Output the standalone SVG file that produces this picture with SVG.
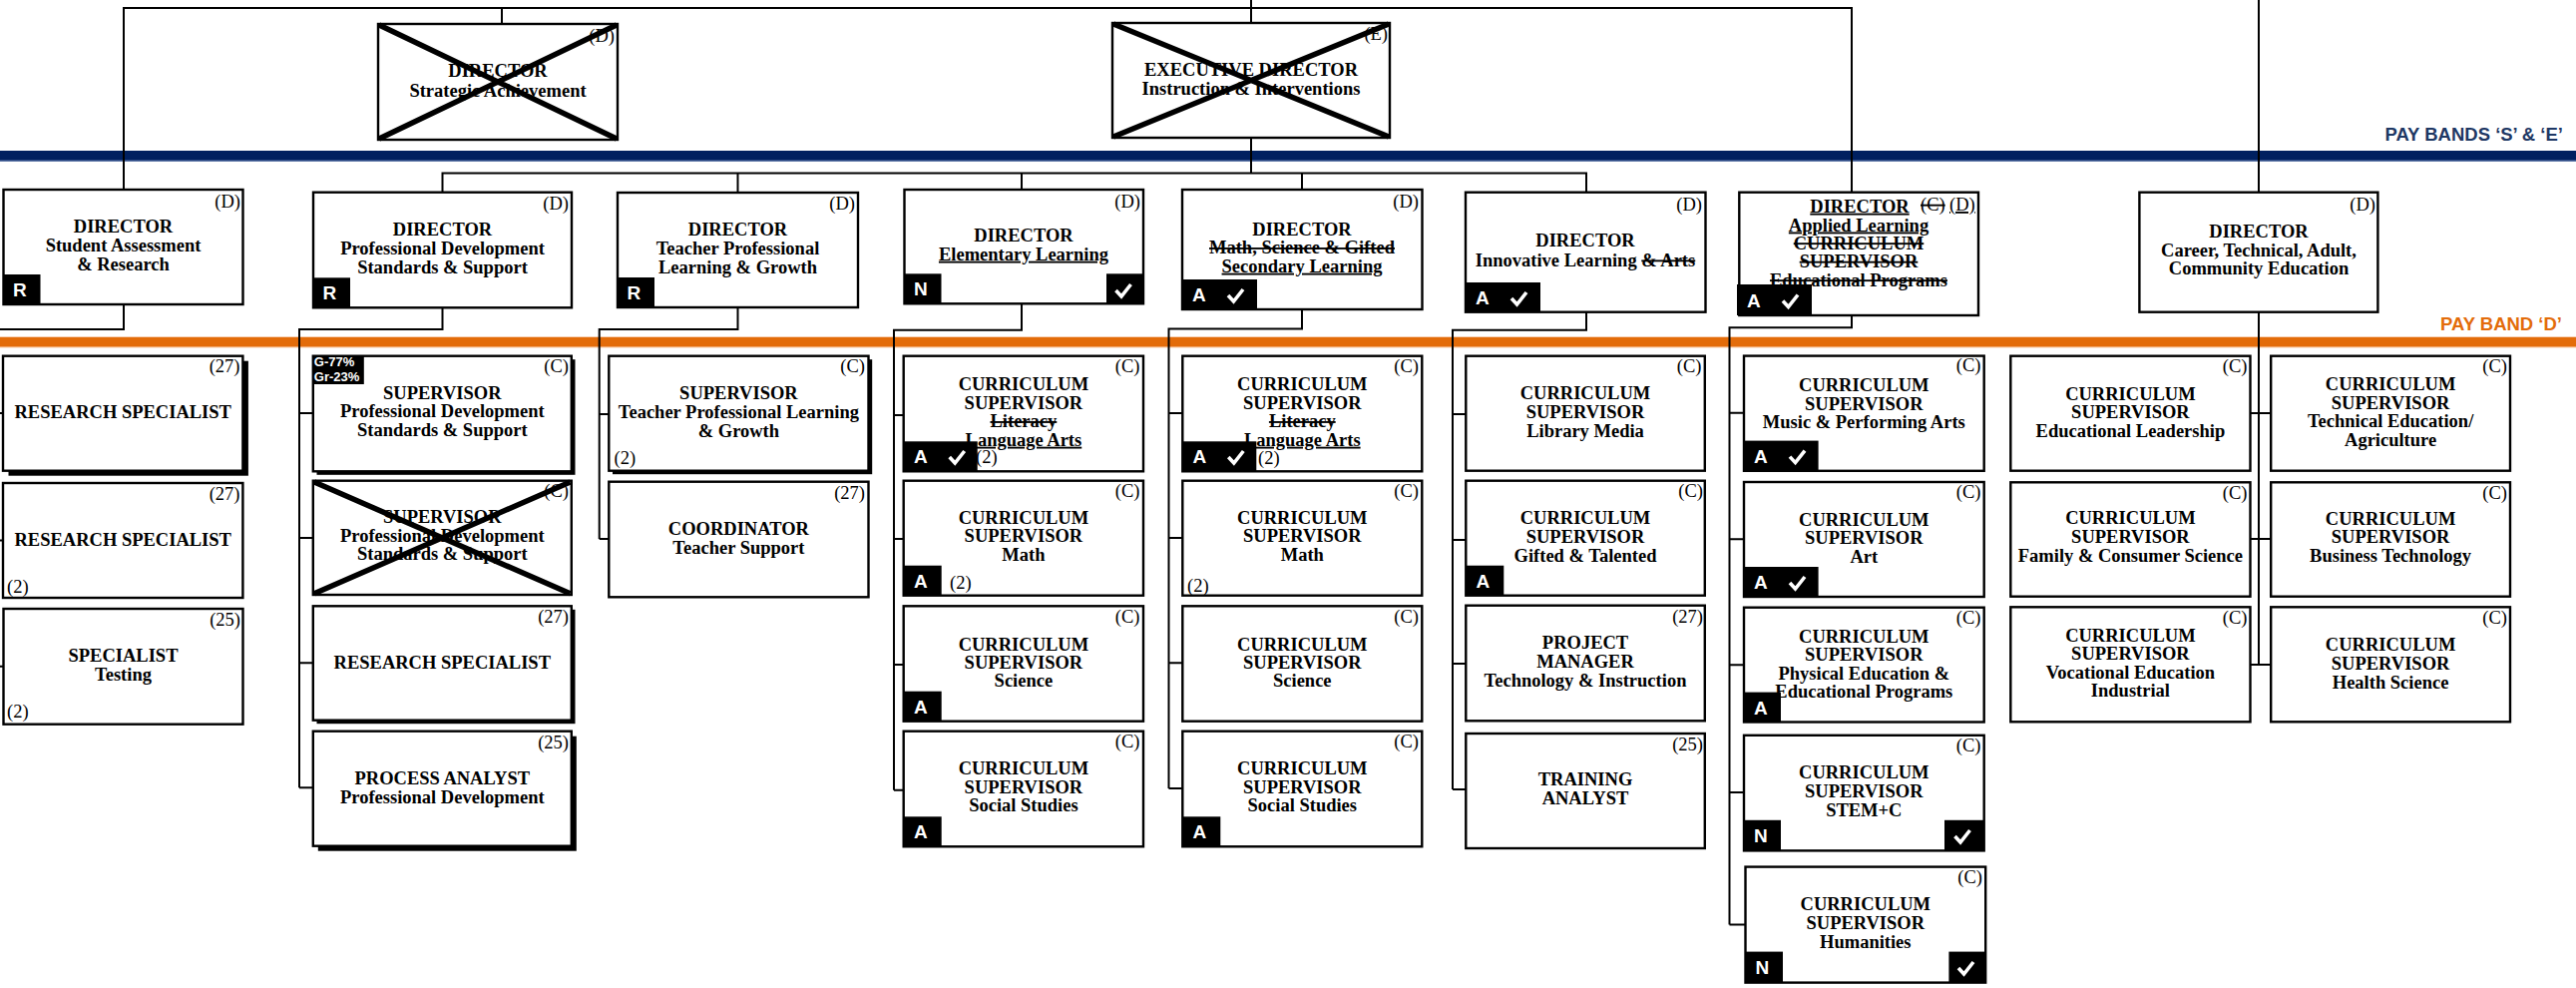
<svg xmlns="http://www.w3.org/2000/svg" xmlns:xlink="http://www.w3.org/1999/xlink" width="2582" height="990" viewBox="0 0 2582 990">
<style>
.bx{fill:#fff;stroke:#000;stroke-width:2.4}
.sh{fill:#000}
.t{font-family:"Liberation Serif","Times New Roman",serif;font-weight:bold;font-size:18.5px;text-anchor:middle;fill:#000}
.gr{font-family:"Liberation Serif","Times New Roman",serif;font-size:18.5px;text-anchor:end;fill:#000}
.gl{font-family:"Liberation Serif","Times New Roman",serif;font-size:18.5px;text-anchor:start;fill:#000}
.bg{fill:#000}
.bl{font-family:"Liberation Sans",Arial,sans-serif;font-weight:bold;font-size:19px;fill:#fff}
.gb{font-family:"Liberation Sans",Arial,sans-serif;font-weight:bold;font-size:13px;fill:#fff}
.ck{fill:none;stroke:#fff;stroke-width:3.6}
.xx{stroke:#000;stroke-width:5.5}
.cn{fill:none;stroke:#000;stroke-width:2}
.u{text-decoration:underline}
.s{text-decoration:line-through}
.band{font-family:"Liberation Sans",Arial,sans-serif;font-weight:bold;font-size:18.5px;text-anchor:end}
</style>
<defs>
<path id="chk" class="ck" d="M0,6 L5.5,12 L15,0"/>
</defs>
<rect width="2582" height="990" fill="#fff"/>
<g id="bands">
<rect x="0" y="151" width="2582" height="10.5" fill="#002060"/>
<rect x="0" y="160.5" width="2582" height="1.2" fill="#5a74a8"/>
<text class="band" x="2569" y="141" fill="#1F3864">PAY BANDS ‘S’ &amp; ‘E’</text>
<rect x="0" y="337.7" width="2582" height="10" fill="#E36C0A"/>
<rect x="0" y="347" width="2582" height="1.3" fill="#f2a66a"/>
<text class="band" x="2568" y="330.7" fill="#E36C0A">PAY BAND ‘D’</text>
</g>
<g id="connectors" class="cn">
<path d="M124,190 V8 H1856 V193"/>
<path d="M503,8 V24"/>
<path d="M1254,0 V23 M1254,138 V173.5"/>
<path d="M443.5,192.7 V173.5 H1590 V192.7"/>
<path d="M739.5,173.5 V193 M1024,173.5 V190 M1305,173.5 V190"/>
<path d="M2264,0 V192.7"/>
<path d="M124,305 V330 H-4 V668 M-4,414 H3.5 M-4,541.5 H3.5 M-4,667.7 H3.5"/>
<path d="M443.5,308.3 V330 H300 V789.3 M300,414 H314 M300,539 H314 M300,664.3 H314 M300,789.3 H314"/>
<path d="M739.5,308 V330 H600.7 V540 M600.7,415 H610.3 M600.7,540 H610.3"/>
<path d="M1024,304.3 V330.7 H896 V791.7 M896,416 H905.7 M896,540 H905.7 M896,666 H905.7 M896,791.7 H905.7"/>
<path d="M1305,310 V329.5 H1171.5 V790 M1171.5,414 H1185.3 M1171.5,539 H1185.3 M1171.5,664.3 H1185.3 M1171.5,790 H1185.3"/>
<path d="M1590,312.7 V330.7 H1456 V791 M1456,415 H1469.3 M1456,541 H1469.3 M1456,665 H1469.3 M1456,791 H1469.3"/>
<path d="M1856,316 V328.3 H1733.5 V926.6 M1733.5,413.8 H1748 M1733.5,540.2 H1748 M1733.5,666.3 H1748 M1733.5,794 H1748 M1733.5,926.6 H1749.5"/>
<path d="M2264,312.7 V666 M2255.5,414 H2276.2 M2255.5,540 H2276.2 M2255.5,666 H2276.2"/>
</g>

<g id="strategic">
<rect class="bx" x="379" y="24" width="240" height="116"/>
<text class="gr" x="616" y="42">(D)</text>
<text class="t" x="499" y="77.3">DIRECTOR</text>
<text class="t" x="499" y="96.7">Strategic Achievement</text>
<path class="xx" d="M380,25 L618,139 M380,139 L618,25"/>
</g>
<g id="executive">
<rect class="bx" x="1115" y="23" width="278" height="115"/>
<text class="gr" x="1391" y="40">(E)</text>
<text class="t" x="1254" y="76">EXECUTIVE DIRECTOR</text>
<text class="t" x="1254" y="95">Instruction &amp; Interventions</text>
<path class="xx" d="M1116,24 L1392,137 M1116,137 L1392,24"/>
</g>

<g id="dir-student">
<rect class="bx" x="3.5" y="190" width="240" height="115"/>
<text class="gr" x="241" y="208">(D)</text>
<text class="t" x="123.5" y="233.3">DIRECTOR</text>
<text class="t" x="123.5" y="251.7">Student Assessment</text>
<text class="t" x="123.5" y="270.7">&amp; Research</text>
<rect class="bg" x="3.5" y="275" width="37" height="30"/>
<text class="bl" x="13" y="297">R</text>
</g>
<g id="dir-profdev">
<rect class="bx" x="314" y="192.7" width="259" height="115.6"/>
<text class="gr" x="570" y="210">(D)</text>
<text class="t" x="443.5" y="236">DIRECTOR</text>
<text class="t" x="443.5" y="255">Professional Development</text>
<text class="t" x="443.5" y="274">Standards &amp; Support</text>
<rect class="bg" x="314" y="278.3" width="37" height="30"/>
<text class="bl" x="323.5" y="300.3">R</text>
</g>
<g id="dir-teacher">
<rect class="bx" x="619" y="193" width="241" height="115"/>
<text class="gr" x="857" y="210">(D)</text>
<text class="t" x="739.5" y="236">DIRECTOR</text>
<text class="t" x="739.5" y="255">Teacher Professional</text>
<text class="t" x="739.5" y="274">Learning &amp; Growth</text>
<rect class="bg" x="619" y="278" width="37" height="30"/>
<text class="bl" x="628.5" y="300">R</text>
</g>
<g id="dir-elem">
<rect class="bx" x="906.5" y="190" width="239.5" height="114.3"/>
<text class="gr" x="1143" y="208">(D)</text>
<text class="t" x="1026" y="241.7">DIRECTOR</text>
<text class="t u" x="1026" y="260.7">Elementary Learning</text>
<rect class="bg" x="906.5" y="274.3" width="37" height="30"/>
<text class="bl" x="916" y="296.3">N</text>
<rect class="bg" x="1109" y="274.3" width="37" height="30"/>
<use xlink:href="#chk" x="1118.5" y="285"/>
</g>
<g id="dir-math">
<rect class="bx" x="1185" y="190" width="240.5" height="120"/>
<text class="gr" x="1422" y="208">(D)</text>
<text class="t" x="1305" y="236">DIRECTOR</text>
<text class="t s" x="1305" y="254.3">Math, Science &amp; Gifted</text>
<text class="t u" x="1305" y="272.7">Secondary Learning</text>
<rect class="bg" x="1185" y="280" width="75" height="30"/>
<text class="bl" x="1195" y="302">A</text>
<use xlink:href="#chk" x="1231" y="290"/>
</g>
<g id="dir-innov">
<rect class="bx" x="1469" y="192.7" width="240.5" height="120"/>
<text class="gr" x="1706" y="211">(D)</text>
<text class="t" x="1589" y="247.3">DIRECTOR</text>
<text class="t" x="1589" y="266.7">Innovative Learning <tspan class="s">&amp; Arts</tspan></text>
<rect class="bg" x="1469" y="283" width="75" height="30"/>
<text class="bl" x="1479" y="305">A</text>
<use xlink:href="#chk" x="1515" y="293"/>
</g>
<g id="dir-applied">
<rect class="bx" x="1743.3" y="192.7" width="239.7" height="123.3"/>
<text class="t u" x="1864" y="212.7">DIRECTOR</text>
<text class="gl s" x="1925" y="211">(C)</text>
<text class="gl u" x="1954" y="211">(D)</text>
<text class="t u" x="1863" y="231.5">Applied Learning</text>
<text class="t s" x="1863" y="249.5">CURRICULUM</text>
<text class="t s" x="1863" y="268">SUPERVISOR</text>
<text class="t s" x="1863" y="286.5">Educational Programs</text>
<rect class="bg" x="1741" y="285" width="75" height="31"/>
<text class="bl" x="1751" y="307.5">A</text>
<use xlink:href="#chk" x="1787" y="295.5"/>
</g>
<g id="dir-career">
<rect class="bx" x="2144.4" y="192.7" width="239" height="120"/>
<text class="gr" x="2381" y="211">(D)</text>
<text class="t" x="2264" y="238.3">DIRECTOR</text>
<text class="t" x="2264" y="256.7">Career, Technical, Adult,</text>
<text class="t" x="2264" y="275">Community Education</text>
</g>

<g id="research-specialist-1">
<rect class="sh" x="8.5" y="361.7" width="240.4" height="115"/>
<rect class="bx" x="3" y="356.7" width="240.4" height="115"/>
<text class="gr" x="240.5" y="373.3">(27)</text>
<text class="t" x="123.2" y="419">RESEARCH SPECIALIST</text>
</g>
<g id="research-specialist-2">
<rect class="bx" x="3" y="484" width="240.4" height="115"/>
<text class="gr" x="240.5" y="500.5">(27)</text>
<text class="t" x="123.2" y="546.7">RESEARCH SPECIALIST</text>
<text class="gl" x="7" y="594">(2)</text>
</g>
<g id="specialist-testing">
<rect class="bx" x="3.5" y="610" width="240" height="115.7"/>
<text class="gr" x="241" y="626.5">(25)</text>
<text class="t" x="123.5" y="662.7">SPECIALIST</text>
<text class="t" x="123.5" y="681.7">Testing</text>
<text class="gl" x="7" y="719">(2)</text>
</g>

<g id="supervisor-pd">
<rect class="sh" x="317.5" y="360.2" width="259" height="115.6"/>
<rect class="bx" x="313.8" y="356.7" width="259" height="115.6"/>
<text class="gr" x="570" y="373">(C)</text>
<text class="t" x="443.3" y="400">SUPERVISOR</text>
<text class="t" x="443.3" y="418.3">Professional Development</text>
<text class="t" x="443.3" y="437.3">Standards &amp; Support</text>
<rect class="bg" x="313.8" y="356.7" width="51" height="28.3"/>
<text class="gb" x="314.8" y="366.7">G-77%</text>
<text class="gb" x="314.8" y="382.3">Gr-23%</text>
</g>
<g id="supervisor-pd-removed">
<rect class="bx" x="313.8" y="481.7" width="259" height="114.3"/>
<text class="gr" x="570" y="498">(C)</text>
<text class="t" x="443.3" y="524">SUPERVISOR</text>
<text class="t" x="443.3" y="542.7">Professional Development</text>
<text class="t" x="443.3" y="561">Standards &amp; Support</text>
<path class="xx" d="M315,483 L571.5,594.8 M315,594.8 L571.5,483"/>
</g>
<g id="research-specialist-pd">
<rect class="sh" x="317.5" y="610.8" width="259" height="114.4"/>
<rect class="bx" x="313.8" y="607.3" width="259" height="114.4"/>
<text class="gr" x="570" y="624">(27)</text>
<text class="t" x="443.3" y="670">RESEARCH SPECIALIST</text>
</g>
<g id="process-analyst">
<rect class="sh" x="318.8" y="737.7" width="259" height="115"/>
<rect class="bx" x="313.8" y="732.7" width="259" height="115"/>
<text class="gr" x="570" y="749.5">(25)</text>
<text class="t" x="443.3" y="786">PROCESS ANALYST</text>
<text class="t" x="443.3" y="805">Professional Development</text>
</g>

<g id="supervisor-tpl">
<rect class="sh" x="614" y="360.2" width="260.2" height="115"/>
<rect class="bx" x="610.3" y="356.7" width="260.2" height="115"/>
<text class="gr" x="867" y="373">(C)</text>
<text class="t" x="740.4" y="400">SUPERVISOR</text>
<text class="t" x="740.4" y="419">Teacher Professional Learning</text>
<text class="t" x="740.4" y="437.7">&amp; Growth</text>
<text class="gl" x="615.6" y="465">(2)</text>
</g>
<g id="coordinator">
<rect class="bx" x="610.3" y="482.7" width="260.2" height="115.6"/>
<text class="gr" x="867" y="499.5">(27)</text>
<text class="t" x="740.4" y="536">COORDINATOR</text>
<text class="t" x="740.4" y="555">Teacher Support</text>
</g>

<g id="elem-literacy">
<rect class="bx" x="905.7" y="356.7" width="240.3" height="115.6"/>
<text class="gr" x="1142.5" y="373">(C)</text>
<text class="t" x="1025.9" y="390.7">CURRICULUM</text>
<text class="t" x="1025.9" y="410">SUPERVISOR</text>
<text class="t s" x="1025.9" y="428.3">Literacy</text>
<text class="t u" x="1025.9" y="446.7">Language Arts</text>
<text class="gl" x="978" y="464">(2)</text>
<rect class="bg" x="905.7" y="442.3" width="74" height="30"/>
<text class="bl" x="916" y="464.3">A</text>
<use xlink:href="#chk" x="951.7" y="452"/>
</g>
<g id="elem-math">
<rect class="bx" x="905.7" y="481.7" width="240.3" height="115"/>
<text class="gr" x="1142.5" y="498">(C)</text>
<text class="t" x="1025.9" y="525">CURRICULUM</text>
<text class="t" x="1025.9" y="543.3">SUPERVISOR</text>
<text class="t" x="1025.9" y="561.7">Math</text>
<rect class="bg" x="905.7" y="566.7" width="38" height="30"/>
<text class="bl" x="916" y="588.7">A</text>
<text class="gl" x="952" y="590">(2)</text>
</g>
<g id="elem-science">
<rect class="bx" x="905.7" y="607.3" width="240.3" height="115.4"/>
<text class="gr" x="1142.5" y="624">(C)</text>
<text class="t" x="1025.9" y="651.7">CURRICULUM</text>
<text class="t" x="1025.9" y="670">SUPERVISOR</text>
<text class="t" x="1025.9" y="688.3">Science</text>
<rect class="bg" x="905.7" y="692.7" width="38" height="30"/>
<text class="bl" x="916" y="714.7">A</text>
</g>
<g id="elem-social">
<rect class="bx" x="905.7" y="732.7" width="240.3" height="115.6"/>
<text class="gr" x="1142.5" y="749">(C)</text>
<text class="t" x="1025.9" y="776">CURRICULUM</text>
<text class="t" x="1025.9" y="795">SUPERVISOR</text>
<text class="t" x="1025.9" y="813.3">Social Studies</text>
<rect class="bg" x="905.7" y="818.3" width="38" height="30"/>
<text class="bl" x="916" y="840.3">A</text>
</g>

<g id="sec-literacy">
<rect class="bx" x="1185.3" y="356.7" width="240" height="115.6"/>
<text class="gr" x="1422" y="373">(C)</text>
<text class="t" x="1305.3" y="390.7">CURRICULUM</text>
<text class="t" x="1305.3" y="410">SUPERVISOR</text>
<text class="t s" x="1305.3" y="428.3">Literacy</text>
<text class="t u" x="1305.3" y="446.7">Language Arts</text>
<text class="gl" x="1261" y="465">(2)</text>
<rect class="bg" x="1185.3" y="442.3" width="74" height="30"/>
<text class="bl" x="1195.5" y="464.3">A</text>
<use xlink:href="#chk" x="1231.3" y="452"/>
</g>
<g id="sec-math">
<rect class="bx" x="1185.3" y="481.7" width="240" height="115"/>
<text class="gr" x="1422" y="498">(C)</text>
<text class="t" x="1305.3" y="525">CURRICULUM</text>
<text class="t" x="1305.3" y="543.3">SUPERVISOR</text>
<text class="t" x="1305.3" y="561.7">Math</text>
<text class="gl" x="1190" y="593">(2)</text>
</g>
<g id="sec-science">
<rect class="bx" x="1185.3" y="607.3" width="240" height="115.4"/>
<text class="gr" x="1422" y="624">(C)</text>
<text class="t" x="1305.3" y="651.7">CURRICULUM</text>
<text class="t" x="1305.3" y="670">SUPERVISOR</text>
<text class="t" x="1305.3" y="688.3">Science</text>
</g>
<g id="sec-social">
<rect class="bx" x="1185.3" y="732.7" width="240" height="115.6"/>
<text class="gr" x="1422" y="749">(C)</text>
<text class="t" x="1305.3" y="776">CURRICULUM</text>
<text class="t" x="1305.3" y="795">SUPERVISOR</text>
<text class="t" x="1305.3" y="813.3">Social Studies</text>
<rect class="bg" x="1185.3" y="818.3" width="38" height="30"/>
<text class="bl" x="1195.5" y="840.3">A</text>
</g>

<g id="library-media">
<rect class="bx" x="1469.3" y="356.7" width="239.5" height="115"/>
<text class="gr" x="1705.5" y="373">(C)</text>
<text class="t" x="1589" y="400">CURRICULUM</text>
<text class="t" x="1589" y="419">SUPERVISOR</text>
<text class="t" x="1589" y="437.7">Library Media</text>
</g>
<g id="gifted">
<rect class="bx" x="1469.3" y="481.7" width="239.5" height="115"/>
<text class="gr" x="1707" y="498">(C)</text>
<text class="t" x="1589" y="525">CURRICULUM</text>
<text class="t" x="1589" y="544">SUPERVISOR</text>
<text class="t" x="1589" y="562.7">Gifted &amp; Talented</text>
<rect class="bg" x="1469.3" y="566.7" width="38" height="30"/>
<text class="bl" x="1479.5" y="588.7">A</text>
</g>
<g id="project-manager">
<rect class="bx" x="1469.3" y="606.7" width="239.5" height="115.6"/>
<text class="gr" x="1707" y="623.5">(27)</text>
<text class="t" x="1589" y="650">PROJECT</text>
<text class="t" x="1589" y="669">MANAGER</text>
<text class="t" x="1589" y="688.3">Technology &amp; Instruction</text>
</g>
<g id="training-analyst">
<rect class="bx" x="1469.3" y="735" width="239.5" height="115"/>
<text class="gr" x="1707" y="751.5">(25)</text>
<text class="t" x="1589" y="787.3">TRAINING</text>
<text class="t" x="1589" y="805.7">ANALYST</text>
</g>

<g id="music">
<rect class="bx" x="1748" y="356.6" width="240.7" height="115.2"/>
<text class="gr" x="1985.5" y="372">(C)</text>
<text class="t" x="1868.3" y="391.8">CURRICULUM</text>
<text class="t" x="1868.3" y="410.5">SUPERVISOR</text>
<text class="t" x="1868.3" y="428.8">Music &amp; Performing Arts</text>
<rect class="bg" x="1748" y="441.6" width="74.6" height="30.2"/>
<text class="bl" x="1758" y="463.6">A</text>
<use xlink:href="#chk" x="1794" y="451.6"/>
</g>
<g id="art">
<rect class="bx" x="1748" y="483" width="240.7" height="115"/>
<text class="gr" x="1985.5" y="499">(C)</text>
<text class="t" x="1868.3" y="526.6">CURRICULUM</text>
<text class="t" x="1868.3" y="545.2">SUPERVISOR</text>
<text class="t" x="1868.3" y="563.9">Art</text>
<rect class="bg" x="1748" y="568" width="74.6" height="30"/>
<text class="bl" x="1758" y="590">A</text>
<use xlink:href="#chk" x="1794" y="578"/>
</g>
<g id="physical-education">
<rect class="bx" x="1748" y="608.7" width="240.7" height="114.8"/>
<text class="gr" x="1985.5" y="625">(C)</text>
<text class="t" x="1868.3" y="643.5">CURRICULUM</text>
<text class="t" x="1868.3" y="662">SUPERVISOR</text>
<text class="t" x="1868.3" y="680.5">Physical Education &amp;</text>
<text class="t" x="1868.3" y="699">Educational Programs</text>
<rect class="bg" x="1748" y="693.6" width="37" height="30"/>
<text class="bl" x="1758" y="715.6">A</text>
</g>
<g id="stem">
<rect class="bx" x="1748" y="736.8" width="240.7" height="115.6"/>
<text class="gr" x="1985.5" y="753">(C)</text>
<text class="t" x="1868.3" y="780.3">CURRICULUM</text>
<text class="t" x="1868.3" y="799">SUPERVISOR</text>
<text class="t" x="1868.3" y="817.7">STEM+C</text>
<rect class="bg" x="1748" y="821.8" width="37" height="30.6"/>
<text class="bl" x="1758" y="844">N</text>
<rect class="bg" x="1949" y="821.8" width="39.7" height="30.6"/>
<use xlink:href="#chk" x="1959.5" y="832"/>
</g>
<g id="humanities">
<rect class="bx" x="1749.5" y="868.6" width="240.7" height="116"/>
<text class="gr" x="1987" y="885">(C)</text>
<text class="t" x="1869.8" y="912">CURRICULUM</text>
<text class="t" x="1869.8" y="930.8">SUPERVISOR</text>
<text class="t" x="1869.8" y="950.3">Humanities</text>
<rect class="bg" x="1749.5" y="953.6" width="37.5" height="31"/>
<text class="bl" x="1759.5" y="976">N</text>
<rect class="bg" x="1953.4" y="953.6" width="36.8" height="31"/>
<use xlink:href="#chk" x="1963" y="964"/>
</g>

<g id="educational-leadership">
<rect class="bx" x="2015.3" y="356.7" width="240.2" height="115"/>
<text class="gr" x="2252.5" y="373">(C)</text>
<text class="t" x="2135.4" y="400.7">CURRICULUM</text>
<text class="t" x="2135.4" y="419">SUPERVISOR</text>
<text class="t" x="2135.4" y="438.3">Educational Leadership</text>
</g>
<g id="family-consumer">
<rect class="bx" x="2015.3" y="483.3" width="240.2" height="114.4"/>
<text class="gr" x="2252.5" y="499.5">(C)</text>
<text class="t" x="2135.4" y="525">CURRICULUM</text>
<text class="t" x="2135.4" y="544">SUPERVISOR</text>
<text class="t" x="2135.4" y="562.7">Family &amp; Consumer Science</text>
</g>
<g id="vocational">
<rect class="bx" x="2015.3" y="608.3" width="240.2" height="115"/>
<text class="gr" x="2252.5" y="625">(C)</text>
<text class="t" x="2135.4" y="642.7">CURRICULUM</text>
<text class="t" x="2135.4" y="661">SUPERVISOR</text>
<text class="t" x="2135.4" y="680">Vocational Education</text>
<text class="t" x="2135.4" y="698.3">Industrial</text>
</g>
<g id="technical-agriculture">
<rect class="bx" x="2276.2" y="356.7" width="239.8" height="115"/>
<text class="gr" x="2513" y="373">(C)</text>
<text class="t" x="2396.1" y="390.7">CURRICULUM</text>
<text class="t" x="2396.1" y="410">SUPERVISOR</text>
<text class="t" x="2396.1" y="428.3">Technical Education/</text>
<text class="t" x="2396.1" y="447.3">Agriculture</text>
</g>
<g id="business-technology">
<rect class="bx" x="2276.2" y="483.3" width="239.8" height="114.4"/>
<text class="gr" x="2513" y="499.5">(C)</text>
<text class="t" x="2396.1" y="525.7">CURRICULUM</text>
<text class="t" x="2396.1" y="544.3">SUPERVISOR</text>
<text class="t" x="2396.1" y="563.3">Business Technology</text>
</g>
<g id="health-science">
<rect class="bx" x="2276.2" y="608.3" width="239.8" height="115"/>
<text class="gr" x="2513" y="625">(C)</text>
<text class="t" x="2396.1" y="651.7">CURRICULUM</text>
<text class="t" x="2396.1" y="671">SUPERVISOR</text>
<text class="t" x="2396.1" y="690">Health Science</text>
</g>
</svg>
